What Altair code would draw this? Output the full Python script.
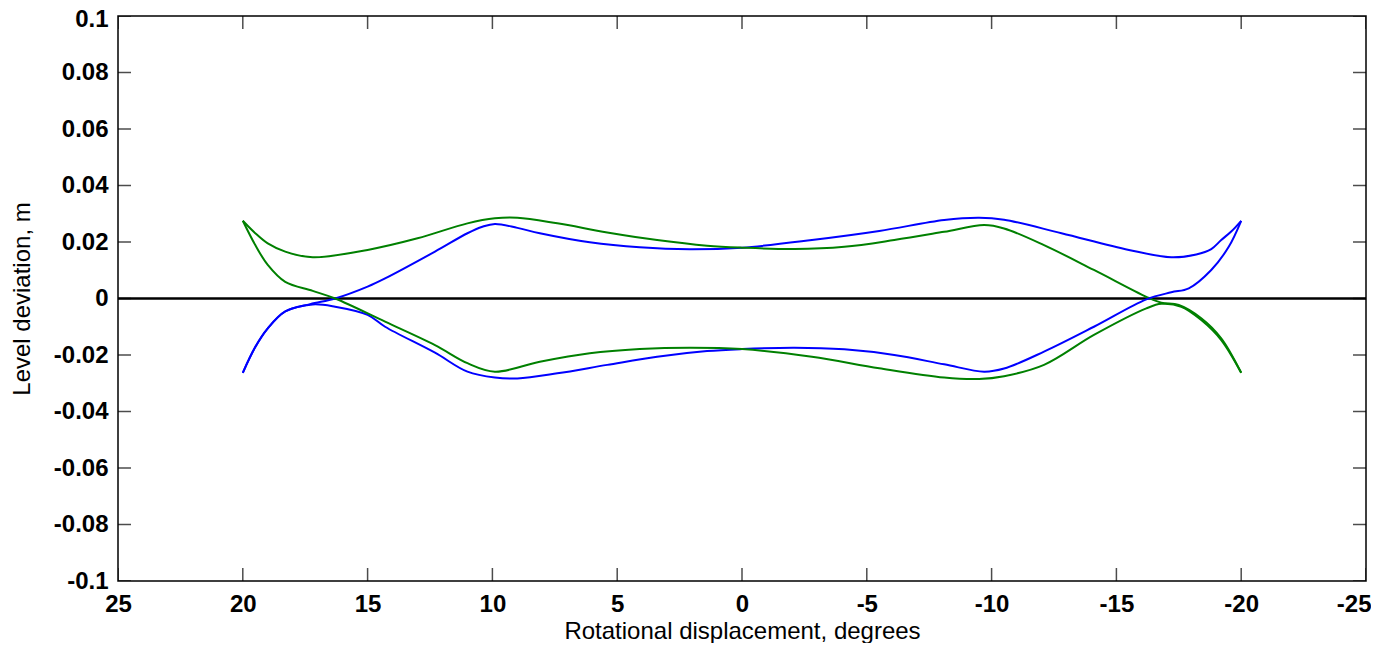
import altair as alt
import pandas as pd

# Tick positions
x_ticks = [25, 20, 15, 10, 5, 0, -5, -10, -15, -20, -25]
y_ticks = [0.1, 0.08, 0.06, 0.04, 0.02, 0, -0.02, -0.04, -0.06, -0.08, -0.1]

# Blue curve 1 (rises from lower-left, upper path on right)
blue1_x = [20.0, 19.5, 19.0, 18.3, 17.3, 16.3, 15.0, 14.3, 12.3, 11.0, 10.4, 9.9, 9.0, 8.1, 6.1, 4.1, 2.1, 0.0,
           -2.8, -5.5, -8.1, -9.5, -10.5, -12.8, -15.5, -17.2, -18.2, -18.8, -19.2, -19.6, -20.0]
blue1_y = [-0.0263, -0.0172, -0.0106, -0.0046, -0.0020, 0.0000, 0.0042, 0.0071, 0.0166, 0.0231, 0.0254, 0.0264,
           0.0250, 0.0231, 0.0199, 0.0181, 0.0174, 0.0180,
           0.0207, 0.0239, 0.0278, 0.0286, 0.0279, 0.0231, 0.0172, 0.0146, 0.0156, 0.0175, 0.0207, 0.0237, 0.0275]

# Green curve 1 (falls from upper-left, upper path on left)
green1_x = [20.0, 19.5, 19.0, 18.3, 17.2, 15.0, 13.0, 11.0, 9.9, 9.0, 7.4, 5.4, 3.4, 1.4, 0.0,
            -2.1, -4.1, -6.1, -8.1, -9.7, -10.5, -12.1, -14.1, -16.2, -16.8, -17.5, -18.4, -19.2, -20.0]
green1_y = [0.0275, 0.0231, 0.0195, 0.0166, 0.0146, 0.0172, 0.0213, 0.0266, 0.0284, 0.0286, 0.0266, 0.0234,
            0.0207, 0.0187, 0.0180,
            0.0175, 0.0183, 0.0207, 0.0236, 0.0260, 0.0248, 0.0189, 0.0101, 0.0006, -0.0015, -0.0023, -0.0070,
            -0.0141, -0.0263]

# Blue curve 2 (lower path on left, rises on right)
blue2_x = [20.0, 19.5, 19.0, 18.3, 17.2, 16.3, 15.0, 14.3, 12.3, 11.0, 9.9, 9.0, 7.4, 5.4, 3.4, 1.4, 0.0,
           -2.1, -4.1, -6.1, -8.1, -9.7, -10.5, -12.1, -14.1, -16.2, -17.2, -17.9, -18.8, -19.5, -20.0]
blue2_y = [-0.0263, -0.0172, -0.0106, -0.0046, -0.0021, -0.0029, -0.0058, -0.0100, -0.0192, -0.0259, -0.0280,
           -0.0283, -0.0265, -0.0235, -0.0206, -0.0186, -0.0179,
           -0.0174, -0.0180, -0.0200, -0.0233, -0.0259, -0.0248, -0.0188, -0.0100, -0.0003, 0.0022, 0.0036,
           0.0101, 0.0183, 0.0275]

# Green curve 2 (falls through zero on left, lower path on right)
green2_x = [20.0, 19.5, 19.0, 18.3, 17.2, 16.3, 14.3, 12.3, 11.0, 9.9, 8.1, 6.1, 4.1, 2.1, 0.0,
            -2.8, -5.5, -8.1, -9.5, -10.5, -12.1, -14.1, -16.2, -16.8, -17.6, -18.4, -19.2, -20.0]
green2_y = [0.0275, 0.0189, 0.0119, 0.0059, 0.0027, 0.0000, -0.0082, -0.0165, -0.0229, -0.0259, -0.0224, -0.0194,
            -0.0179, -0.0174, -0.0179,
            -0.0206, -0.0247, -0.0280, -0.0285, -0.0275, -0.0235, -0.0129, -0.0035, -0.0019, -0.0029, -0.0076,
            -0.0147, -0.0263]

series_names = ["blue1", "green1", "blue2", "green2"]
series_colors = ["#0000FF", "#008000", "#0000FF", "#008000"]

rows = []
for name, xs, ys in [("blue1", blue1_x, blue1_y), ("green1", green1_x, green1_y),
                     ("blue2", blue2_x, blue2_y), ("green2", green2_x, green2_y)]:
    for i, (xv, yv) in enumerate(zip(xs, ys)):
        rows.append({"series": name, "x": xv, "y": yv, "i": i})
df = pd.DataFrame(rows)

xscale = alt.Scale(domain=[-25, 25], reverse=True, nice=False, zero=False)
yscale = alt.Scale(domain=[-0.1, 0.1], nice=False, zero=False)

FONT = "Liberation Sans"

x_axis = alt.Axis(
    values=x_ticks, title="Rotational displacement, degrees", labelExpr="'' + datum.value",
    labelPadding=11, labelFlush=False,
    labelAlign={"condition": {"test": "datum.value == -25", "value": "right"}, "value": "center"},
    labelOffset={"condition": {"test": "datum.value == -25", "value": 5}, "value": 0},
    titleY=57, titleBaseline="alphabetic",
)
y_axis = alt.Axis(
    values=y_ticks, title="Level deviation, m", labelExpr="'' + datum.value",
    labelPadding=10, labelFlush=False,
    labelOffset={"condition": {"test": "datum.value > 0.09", "value": 3}, "value": 0},
    titleX=-96, titleY=282.5, titleAngle=270, titleAlign="center", titleBaseline="middle",
)

X = alt.X("x:Q", scale=xscale, axis=x_axis)
Y = alt.Y("y:Q", scale=yscale, axis=y_axis)

zero_df = pd.DataFrame({"y": [0.0]})
zero = alt.Chart(zero_df).mark_rule(color="black", strokeWidth=2.5).encode(y=Y)

lines = alt.Chart(df).mark_line(strokeWidth=2, interpolate="catmull-rom").encode(
    x=X,
    y=Y,
    color=alt.Color("series:N", scale=alt.Scale(domain=series_names, range=series_colors), legend=None),
    detail="series:N",
    order=alt.Order("i:Q"),
)

bottom_df = pd.DataFrame({"x": x_ticks, "y": [-0.1] * len(x_ticks)})
top_df = pd.DataFrame({"x": x_ticks, "y": [0.1] * len(x_ticks)})
left_df = pd.DataFrame({"x": [25] * len(y_ticks), "y": y_ticks})
right_df = pd.DataFrame({"x": [-25] * len(y_ticks), "y": y_ticks})

def vticks(d):
    return alt.Chart(d).mark_tick(orient="vertical", size=26, thickness=1.5, color="black", clip=True).encode(
        x=X, y=Y)

def hticks(d):
    return alt.Chart(d).mark_tick(orient="horizontal", size=26, thickness=1.5, color="black", clip=True).encode(
        x=X, y=Y)

chart = alt.layer(zero, lines, vticks(bottom_df), vticks(top_df), hticks(left_df), hticks(right_df)).properties(
    width=1248, height=565,
    autosize=alt.AutoSizeParams(type="none"),
    padding={"left": 110, "top": 8, "right": 5, "bottom": 62},
    background="white",
).configure_view(
    stroke="black", strokeWidth=1.5
).configure_axis(
    grid=False, domain=False, ticks=False,
    labelFont=FONT, labelFontSize=24, labelFontWeight="bold", labelColor="black",
    titleFont=FONT, titleFontSize=24, titleFontWeight="normal", titleColor="black",
)

chart.save("out.html", embed_options={"renderer": "svg", "actions": False})
